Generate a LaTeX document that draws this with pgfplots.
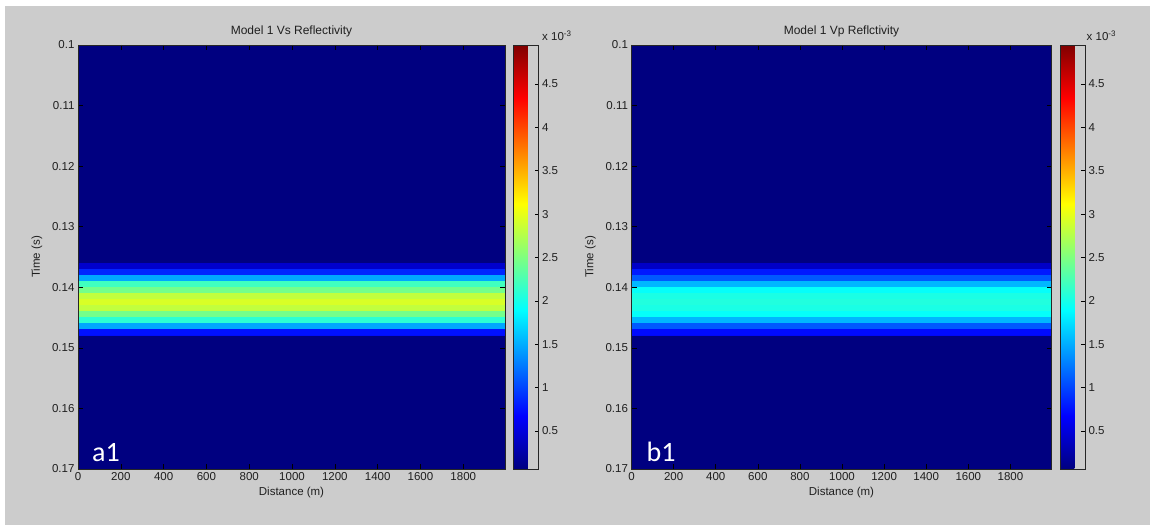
\documentclass[border=0pt]{standalone}
\usepackage{pgfplots}
\pgfplotsset{compat=1.18}
\usepackage{pgfplotstable}
\usepackage{fontspec}
\setmainfont{Liberation Sans}
\newfontfamily\panelfont{Carlito}

\definecolor{figbg}{rgb}{0.8,0.8,0.8}
\definecolor{txt}{rgb}{0.12,0.12,0.12}

% reflectivity sections: 1 ms cells, values in units of 1e-3
% each cell given by its top and bottom edge (two rows of two points)
\pgfplotstableread{
x y c
0 0.100 0.06
1995 0.100 0.06
0 0.136 0.06
1995 0.136 0.06
0 0.136 0.43
1995 0.136 0.43
0 0.137 0.43
1995 0.137 0.43
0 0.137 0.85
1995 0.137 0.85
0 0.138 0.85
1995 0.138 0.85
0 0.138 1.47
1995 0.138 1.47
0 0.139 1.47
1995 0.139 1.47
0 0.139 2.20
1995 0.139 2.20
0 0.140 2.20
1995 0.140 2.20
0 0.140 2.45
1995 0.140 2.45
0 0.141 2.45
1995 0.141 2.45
0 0.141 2.82
1995 0.141 2.82
0 0.142 2.82
1995 0.142 2.82
0 0.142 2.93
1995 0.142 2.93
0 0.143 2.93
1995 0.143 2.93
0 0.143 2.82
1995 0.143 2.82
0 0.144 2.82
1995 0.144 2.82
0 0.144 2.45
1995 0.144 2.45
0 0.145 2.45
1995 0.145 2.45
0 0.145 2.10
1995 0.145 2.10
0 0.146 2.10
1995 0.146 2.10
0 0.146 1.47
1995 0.146 1.47
0 0.147 1.47
1995 0.147 1.47
0 0.147 0.75
1995 0.147 0.75
0 0.148 0.75
1995 0.148 0.75
0 0.148 0.06
1995 0.148 0.06
0 0.170 0.06
1995 0.170 0.06
}\vsdata

\pgfplotstableread{
x y c
0 0.100 0.06
1995 0.100 0.06
0 0.136 0.06
1995 0.136 0.06
0 0.136 0.40
1995 0.136 0.40
0 0.137 0.40
1995 0.137 0.40
0 0.137 0.79
1995 0.137 0.79
0 0.138 0.79
1995 0.138 0.79
0 0.138 1.10
1995 0.138 1.10
0 0.139 1.10
1995 0.139 1.10
0 0.139 1.55
1995 0.139 1.55
0 0.140 1.55
1995 0.140 1.55
0 0.140 1.92
1995 0.140 1.92
0 0.141 1.92
1995 0.141 1.92
0 0.141 2.02
1995 0.141 2.02
0 0.142 2.02
1995 0.142 2.02
0 0.142 2.05
1995 0.142 2.05
0 0.143 2.05
1995 0.143 2.05
0 0.143 2.02
1995 0.143 2.02
0 0.144 2.02
1995 0.144 2.02
0 0.144 1.92
1995 0.144 1.92
0 0.145 1.92
1995 0.145 1.92
0 0.145 1.55
1995 0.145 1.55
0 0.146 1.55
1995 0.146 1.55
0 0.146 1.10
1995 0.146 1.10
0 0.147 1.10
1995 0.147 1.10
0 0.147 0.72
1995 0.147 0.72
0 0.148 0.72
1995 0.148 0.72
0 0.148 0.06
1995 0.148 0.06
0 0.170 0.06
1995 0.170 0.06
}\vpdata

\pgfplotsset{
  every axis/.append style={
    scale only axis,
    axis on top,
    tick align=inside,
    major tick length=5pt,
    every tick/.style={black, line width=0.5pt},
    axis line style={black!85, line width=0.6pt},
    tick label style={font=\fontsize{11.5}{13}\selectfont, text=txt},
    label style={font=\fontsize{11.5}{13}\selectfont, text=txt},
    title style={font=\fontsize{12}{14}\selectfont, text=txt},
  },
  refl/.style={
    anchor=center,
    height=424pt,
    xmin=0, xmax=1995,
    ymin=0.1, ymax=0.17,
    y dir=reverse,
    xtick={0,200,...,1800},
    ytick={0.1,0.11,0.12,0.13,0.14,0.15,0.16,0.17},
    yticklabels={0.1,0.11,0.12,0.13,0.14,0.15,0.16,0.17},
    xtick pos=both, ytick pos=both,
    /pgf/number format/1000 sep={},
    /pgf/number format/assume math mode=true,
    xlabel={Distance (m)},
    ylabel={Time (s)},
    ylabel shift=3pt,
    title style={at={(0.5,1)}, anchor=base, yshift=4pt},
    colormap/jet,
    point meta min=0.06, point meta max=4.95,
    colorbar,
    colorbar style={
      width=25pt,
      at={([xshift=11pt]parent axis.north east)}, anchor=north west,
      ytick={0.5,1,1.5,2,2.5,3,3.5,4,4.5},
      yticklabels={0.5,1,1.5,2,2.5,3,3.5,4,4.5},
      ytick pos=right, yticklabel pos=right,
      major tick length=4pt,
    },
  },
}

\begin{document}
\begin{tikzpicture}
\fill[white] (0pt,0pt) rectangle (1152pt,527pt);
\fill[figbg] (5pt,2pt) rectangle (1150pt,521pt);

\begin{axis}[refl, name=A, at={(291.5pt,270pt)}, width=427pt,
  title={Model 1 Vs Reflectivity}]
\addplot[surf, shader=flat, mesh/cols=2, point meta=explicit] table[x=x, y=y, meta=c] {\vsdata};
\end{axis}

\begin{axis}[refl, name=B, at={(841.5pt,270pt)}, width=420pt,
  title={Model 1 Vp Reflctivity}]
\addplot[surf, shader=flat, mesh/cols=2, point meta=explicit] table[x=x, y=y, meta=c] {\vpdata};
\end{axis}

% colorbar scale factor
\node[anchor=base west, font=\fontsize{11.5}{13}\selectfont, text=txt, inner sep=0pt]
  at ([xshift=37pt,yshift=4pt]A.north east) {x 10\raisebox{0.7ex}{\fontsize{8}{8}\selectfont -3}};
\node[anchor=base west, font=\fontsize{11.5}{13}\selectfont, text=txt, inner sep=0pt]
  at ([xshift=35pt,yshift=4pt]B.north east) {x 10\raisebox{0.7ex}{\fontsize{8}{8}\selectfont -3}};

% panel tags
\node[anchor=base west, inner sep=0pt, text=white, font=\panelfont\fontsize{28}{30}\selectfont]
  at ([xshift=14pt,yshift=7pt]A.south west) {a1};
\node[anchor=base west, inner sep=0pt, text=white, font=\panelfont\fontsize{28}{30}\selectfont]
  at ([xshift=15pt,yshift=7pt]B.south west) {b1};
\end{tikzpicture}
\end{document}
